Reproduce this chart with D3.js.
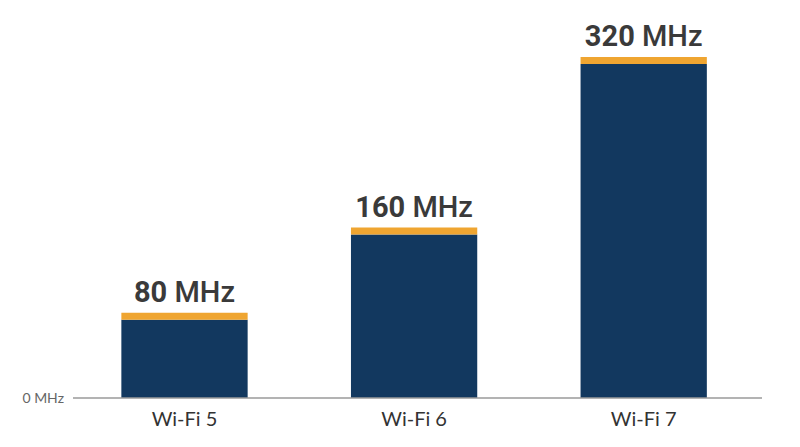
<!DOCTYPE html>
<html lang="en">
<head>
  <meta charset="utf-8" />
  <title>Wi-Fi channel width</title>
  <style>
    html, body { margin: 0; padding: 0; background: #fff; }
    svg { display: block; }
  </style>
</head>
<body>
  <div id="chart"></div>
  <script src="https://cdnjs.cloudflare.com/ajax/libs/d3/7.4.4/d3.min.js"></script>
  <script type="text/javascript">
    // data
    var categories = ["Wi-Fi 5", "Wi-Fi 6", "Wi-Fi 7"];
    var widths = [80, 160, 320];
    var unit = "MHz";
    var yTicks = [0];

    var W = 800, H = 447;
    var baseline = 398;
    var capH = 7;

    var svg = d3.select("#chart").append("svg")
      .attr("width", W)
      .attr("height", H);

    // x band scale
    var x = d3.scaleBand()
      .domain(categories)
      .range([69.7, 758.5])
      .paddingInner(0.45)
      .paddingOuter(0.225);

    // y domain
    var y = d3.scaleLinear()
      .domain([0, 320])
      .range([baseline, 57]);

    var data = categories.map(function (c, i) { return { name: c, value: widths[i] }; });

    // bars: orange cap on top of navy body
    svg.selectAll("rect.body")
      .data(data)
      .enter()
      .append("rect")
        .attr("class", "body")
        .attr("x", function (d) { return x(d.name); })
        .attr("y", function (d) { return y(d.value) + capH; })
        .attr("width", x.bandwidth())
        .attr("height", function (d) { return baseline - y(d.value) - capH; })
        .attr("fill", "#12385f");

    svg.selectAll("rect.cap")
      .data(data)
      .enter()
      .append("rect")
        .attr("class", "cap")
        .attr("x", function (d) { return x(d.name); })
        .attr("y", function (d) { return y(d.value); })
        .attr("width", x.bandwidth())
        .attr("height", capH)
        .attr("fill", "#efa531");

    // value labels
    var lab = svg.selectAll("text.val")
      .data(data)
      .enter()
      .append("text")
        .attr("class", "val")
        .attr("x", function (d) { return x(d.name) + x.bandwidth() / 2; })
        .attr("y", function (d) { return y(d.value) - 11; })
        .attr("text-anchor", "middle")
        .attr("font-family", "Roboto, 'Noto Sans', sans-serif")
        .attr("font-size", "29px")
        .attr("fill", "#3a3a3a");
    lab.append("tspan").attr("font-weight", "bold").text(function (d) { return d.value + " "; });
    lab.append("tspan").attr("font-weight", "500").text(unit);

    // baseline axis
    var xAxis = svg.append("g")
      .attr("transform", "translate(0," + baseline + ")")
      .call(d3.axisBottom(x).tickSize(0).tickPadding(14));
    xAxis.select(".domain").remove();
    xAxis.selectAll("text")
      .attr("font-family", "Lato, 'Noto Sans', sans-serif")
      .attr("font-size", "20px")
      .attr("fill", "#333");

    svg.append("line")
      .attr("x1", 73).attr("x2", 762)
      .attr("y1", baseline).attr("y2", baseline)
      .attr("stroke", "#9a9a9a")
      .attr("stroke-width", 1.5);

    svg.selectAll("text.ytick")
      .data(yTicks)
      .enter()
      .append("text")
        .attr("class", "ytick")
        .attr("x", 64)
        .attr("y", function (d) { return y(d); })
        .attr("dy", "0.35em")
        .attr("text-anchor", "end")
        .attr("font-family", "Lato, 'Noto Sans', sans-serif")
        .attr("font-size", "14px")
        .attr("fill", "#666")
        .text(function (d) { return d + " " + unit; });
  </script>
</body>
</html>
